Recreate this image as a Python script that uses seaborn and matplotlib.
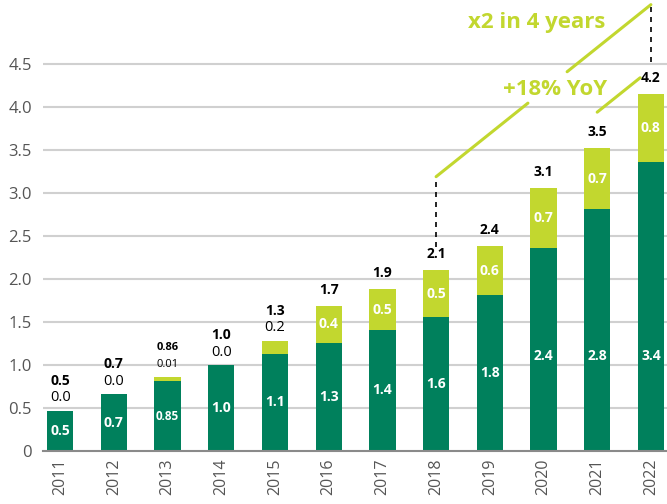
import matplotlib
matplotlib.use("Agg")
import matplotlib.pyplot as plt
import seaborn as sns
import pandas as pd
import numpy as np

years = ["2011", "2012", "2013", "2014", "2015", "2016", "2017", "2018", "2019", "2020", "2021", "2022"]
base = [0.47, 0.66, 0.81, 1.0, 1.13, 1.26, 1.41, 1.56, 1.81, 2.36, 2.81, 3.36]
extra = [0.0, 0.0, 0.05, 0.0, 0.15, 0.43, 0.47, 0.54, 0.57, 0.70, 0.71, 0.79]
base_labels = ["0.5", "0.7", "0.85", "1.0", "1.1", "1.3", "1.4", "1.6", "1.8", "2.4", "2.8", "3.4"]
extra_labels = ["0.0", "0.0", "0.01", "0.0", "0.2", "0.4", "0.5", "0.5", "0.6", "0.7", "0.7", "0.8"]
total_labels = ["0.5", "0.7", "0.86", "1.0", "1.3", "1.7", "1.9", "2.1", "2.4", "3.1", "3.5", "4.2"]
yticks = [0, 0.5, 1.0, 1.5, 2.0, 2.5, 3.0, 3.5, 4.0, 4.5]
ytick_labels = ["0", "0.5", "1.0", "1.5", "2.0", "2.5", "3.0", "3.5", "4.0", "4.5"]

GREEN = "#00805c"
LIME = "#c2d72f"

sns.set_style("white")
plt.rcParams["font.family"] = ["Open Sans", "DejaVu Sans"]

df = pd.DataFrame({"year": years, "base": base, "extra": extra})
df["total"] = df["base"] + df["extra"]

fig = plt.figure(figsize=(6.67, 5.04), dpi=100)
ax = fig.add_axes([0.0645, 0.105, 0.9355, 0.895])

sns.barplot(data=df, x="year", y="total", color=LIME, width=0.49, saturation=1, ax=ax,
            zorder=3, linewidth=0, edgecolor="none")
sns.barplot(data=df, x="year", y="base", color=GREEN, width=0.49, saturation=1, ax=ax,
            zorder=4, linewidth=0, edgecolor="none")

ax.set_xlim(-0.32, 11.3)
ax.set_ylim(0, 5.244)
ax.set_yticks(yticks)
ax.set_yticklabels(ytick_labels)
ax.set_xlabel("")
ax.set_ylabel("")
ax.tick_params(axis="y", length=0, pad=8, labelsize=12, labelcolor="#555555")
ax.tick_params(axis="x", length=0, pad=5, labelsize=11.5, labelcolor="#555555", rotation=90)
for t in yticks[1:]:
    ax.axhline(t, color="#d0d0d0", lw=1.5, zorder=1)
for s in ["top", "right", "left"]:
    ax.spines[s].set_visible(False)
ax.spines["bottom"].set_color("#8a8a8a")
ax.spines["bottom"].set_linewidth(1.5)
ax.spines["bottom"].set_zorder(5)

px = 5.244 / 451.0  # data units per pixel
for i in range(len(years)):
    b = base[i]
    e = extra[i]
    tot = b + e
    small = (i == 2)
    yb = min(b / 2, 1.1)
    ax.text(i, yb, base_labels[i], ha="center", va="center", color="white",
            fontsize=8.5 if small else 10, fontweight="bold", zorder=6)
    if e >= 0.3:
        ax.text(i, b + e / 2, extra_labels[i], ha="center", va="center", color="white",
                fontsize=10, fontweight="bold", zorder=6)
        ax.text(i, tot + 16 * px, total_labels[i], ha="center", va="center", color="black",
                fontsize=10, fontweight="bold", zorder=6)
    else:
        ax.text(i, tot + 13 * px, extra_labels[i], ha="center", va="center", color="black",
                fontsize=8 if small else 10.5, zorder=6)
        ax.text(i, tot + 30 * px, total_labels[i], ha="center", va="center", color="black",
                fontsize=8 if small else 10, fontweight="bold", zorder=6)

# annotation lines
ax.plot([7, 7], [2.37, 3.19], ls=(0, (3, 3)), color="black", lw=1.2, clip_on=False, zorder=6)
ax.plot([11, 11], [4.52, 5.19], ls=(0, (3, 3)), color="black", lw=1.2, clip_on=False, zorder=6)
ax.plot([7, 8.71], [3.19, 4.045], color=LIME, lw=2.2, clip_on=False, zorder=6)
ax.plot([9.44, 11], [4.41, 5.19], color=LIME, lw=2.2, clip_on=False, zorder=6)
ax.plot([10.0, 10.8], [3.94, 4.34], color=LIME, lw=2.2, clip_on=False, zorder=6)
ax.text(8.87, 4.98, "x2 in 4 years", ha="center", va="center", color=LIME,
        fontsize=16, fontweight="bold", zorder=6)
ax.text(9.22, 4.2, "+18% YoY", ha="center", va="center", color=LIME,
        fontsize=16, fontweight="bold", zorder=6)

fig.savefig("out.png", dpi=100)
